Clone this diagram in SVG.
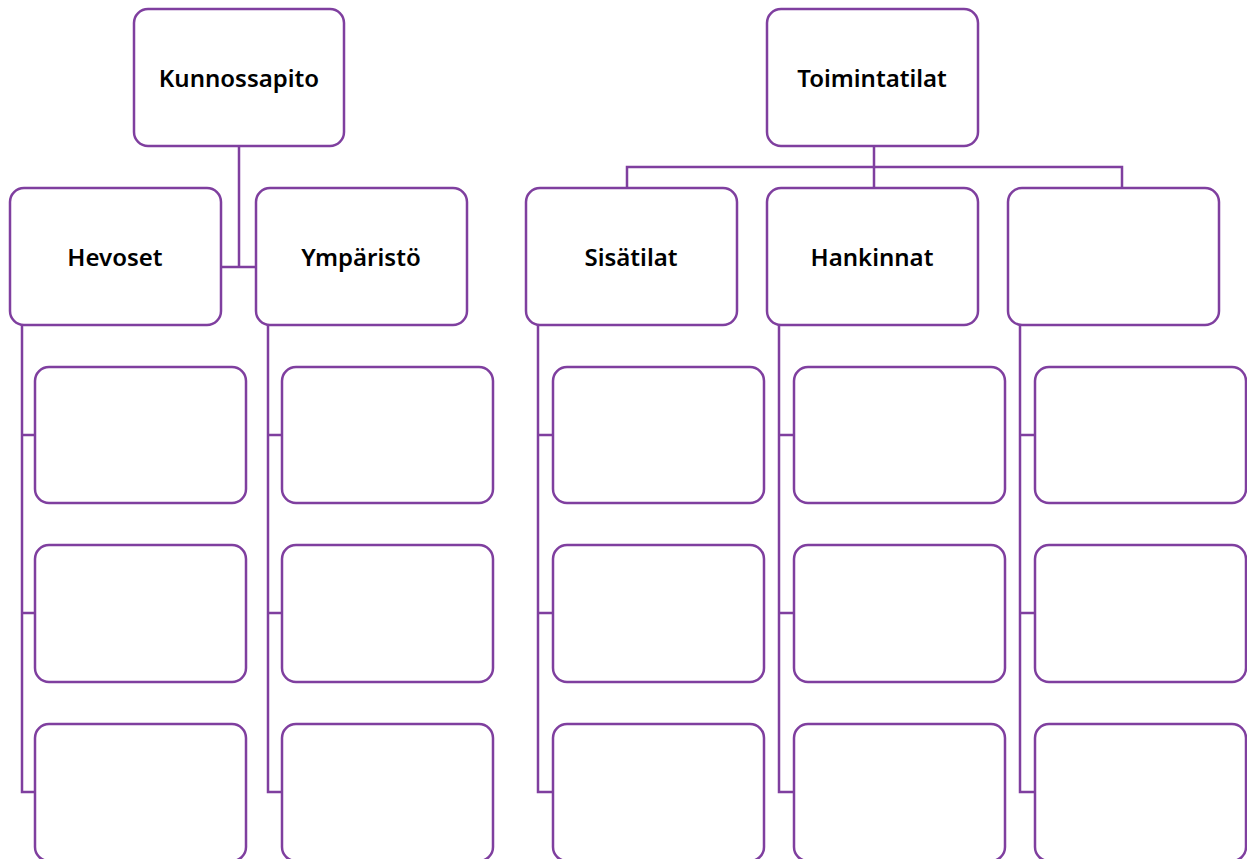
<svg xmlns="http://www.w3.org/2000/svg" width="1247" height="859" viewBox="0 0 1247 859">
<style>
.box{fill:#ffffff;stroke:#7f3f9f;stroke-width:2.5}
.ln{fill:none;stroke:#7f3f9f;stroke-width:2.5}
.t{font-family:"Noto Sans","Open Sans",sans-serif;font-weight:600;font-size:24px;fill:#000;text-anchor:middle;dominant-baseline:central}
</style>
<rect width="1247" height="859" fill="#ffffff"/>
<g id="connectors">
<path class="ln" d="M239 146V267M221 267H256"/>
<path class="ln" d="M22 325V792H35M22 435H35M22 613H35"/>
<path class="ln" d="M268 325V792H282M268 435H282M268 613H282"/>
<path class="ln" d="M874 146V188M627 188V167H1122V188"/>
<path class="ln" d="M538 325V792H553M538 435H553M538 613H553"/>
<path class="ln" d="M779 325V792H794M779 435H794M779 613H794"/>
<path class="ln" d="M1020 325V792H1035M1020 435H1035M1020 613H1035"/>
</g>
<g id="kunnossapito"><rect class="box" x="134" y="9" width="210" height="137" rx="14"/><text class="t" x="239" y="77">Kunnossapito</text></g>
<g id="toimintatilat"><rect class="box" x="767" y="9" width="211" height="137" rx="14"/><text class="t" x="872" y="77">Toimintatilat</text></g>
<g id="hevoset"><rect class="box" x="10" y="188" width="211" height="137" rx="14"/><text class="t" x="115" y="256">Hevoset</text></g>
<g id="ymparisto"><rect class="box" x="256" y="188" width="211" height="137" rx="14"/><text class="t" x="361" y="256">Ympäristö</text></g>
<g id="sisatilat"><rect class="box" x="526" y="188" width="211" height="137" rx="14"/><text class="t" x="631" y="256">Sisätilat</text></g>
<g id="hankinnat"><rect class="box" x="767" y="188" width="211" height="137" rx="14"/><text class="t" x="872" y="256">Hankinnat</text></g>
<g id="empty-top"><rect class="box" x="1008" y="188" width="211" height="137" rx="14"/></g>
<g id="hevoset-c1"><rect class="box" x="35" y="367" width="211" height="136" rx="14"/></g>
<g id="hevoset-c2"><rect class="box" x="35" y="545" width="211" height="137" rx="14"/></g>
<g id="hevoset-c3"><rect class="box" x="35" y="724" width="211" height="137" rx="14"/></g>
<g id="ymparisto-c1"><rect class="box" x="282" y="367" width="211" height="136" rx="14"/></g>
<g id="ymparisto-c2"><rect class="box" x="282" y="545" width="211" height="137" rx="14"/></g>
<g id="ymparisto-c3"><rect class="box" x="282" y="724" width="211" height="137" rx="14"/></g>
<g id="sisatilat-c1"><rect class="box" x="553" y="367" width="211" height="136" rx="14"/></g>
<g id="sisatilat-c2"><rect class="box" x="553" y="545" width="211" height="137" rx="14"/></g>
<g id="sisatilat-c3"><rect class="box" x="553" y="724" width="211" height="137" rx="14"/></g>
<g id="hankinnat-c1"><rect class="box" x="794" y="367" width="211" height="136" rx="14"/></g>
<g id="hankinnat-c2"><rect class="box" x="794" y="545" width="211" height="137" rx="14"/></g>
<g id="hankinnat-c3"><rect class="box" x="794" y="724" width="211" height="137" rx="14"/></g>
<g id="empty-c1"><rect class="box" x="1035" y="367" width="211" height="136" rx="14"/></g>
<g id="empty-c2"><rect class="box" x="1035" y="545" width="211" height="137" rx="14"/></g>
<g id="empty-c3"><rect class="box" x="1035" y="724" width="211" height="137" rx="14"/></g>
</svg>
